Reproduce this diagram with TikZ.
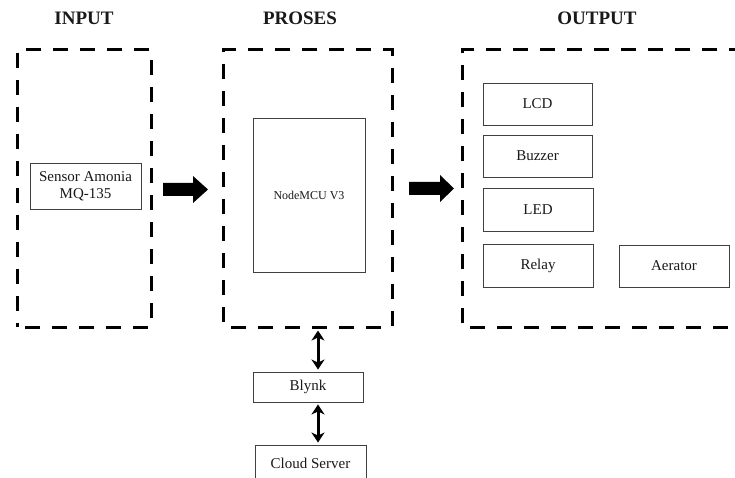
\documentclass[tikz,border=0pt]{standalone}
\usepackage{fontspec}
\setmainfont{Liberation Serif}
\usetikzlibrary{arrows.meta}
\begin{document}
\begin{tikzpicture}[x=1pt,y=-1pt,
  title/.style={font=\fontsize{19}{22}\selectfont\bfseries, text=black!90, inner sep=0pt},
  dbox/.style={draw=black, line width=3pt, dash pattern=on 15pt off 12pt, dash phase=-8pt, inner sep=0pt},
  sbox/.style={draw=black!75, line width=0.9pt, inner sep=0pt, font=\fontsize{15}{17}\selectfont, text=black!90, align=center},
  darr/.style={line width=3pt, {Stealth[length=10pt,width=13pt,inset=3pt]}-{Stealth[length=10pt,width=13pt,inset=3pt]}, shorten <=2pt, shorten >=2pt},
  blk/.style={fill=black}
]
\useasboundingbox (0,0) rectangle (735,478);
% titles
\node[title] (tin) at (84,18) {INPUT};
\node[title] (tpr) at (300,18) {PROSES};
\node[title] (tout) at (597,18) {OUTPUT};
% dashed groups
\node[dbox, minimum width=134pt, minimum height=277pt] (inbox) at (84,188.5) {};
\node[dbox, minimum width=169pt, minimum height=277pt] (prbox) at (307.5,188.5) {};
\node[dbox, minimum width=290pt, minimum height=277pt] (outbox) at (607,188.5) {};
% boxes
\node[sbox, minimum width=111pt, minimum height=46pt] (sensor) at (85.5,186) {Sensor Amonia\\MQ-135};
\node[sbox, minimum width=112pt, minimum height=154pt, font=\fontsize{12}{14}\selectfont] (mcu) at (309,195) {NodeMCU V3};
\node[sbox, minimum width=109pt, minimum height=42pt] (lcd) at (537.5,104) {LCD};
\node[sbox, minimum width=109pt, minimum height=42pt] (buzzer) at (537.5,156) {Buzzer};
\node[sbox, minimum width=110pt, minimum height=43pt] (led) at (538,209.5) {LED};
\node[sbox, minimum width=110pt, minimum height=43pt] (relay) at (538,265.5) {Relay};
\node[sbox, minimum width=110pt, minimum height=42pt] (aerator) at (674,266) {Aerator};
\node[sbox, minimum width=110pt, minimum height=30pt] (blynk) at (308,387) {Blynk};
\node[sbox, minimum width=111pt, minimum height=36pt] (cloud) at (310.5,463) {Cloud Server};
% block arrows
\fill[blk] (163,183) -- (193,183) -- (193,176) -- (208,189.5) -- (193,203) -- (193,196) -- (163,196) -- cycle;
\fill[blk] (409,182) -- (440,182) -- (440,175) -- (454,188.5) -- (440,202) -- (440,195) -- (409,195) -- cycle;
% double arrows
\draw[darr] ([xshift=10pt]blynk.north |- prbox.south) -- ([xshift=10pt]blynk.north);
\draw[darr] ([xshift=10pt]blynk.south) -- ([xshift=10pt]blynk.south |- cloud.north);
\end{tikzpicture}
\end{document}
